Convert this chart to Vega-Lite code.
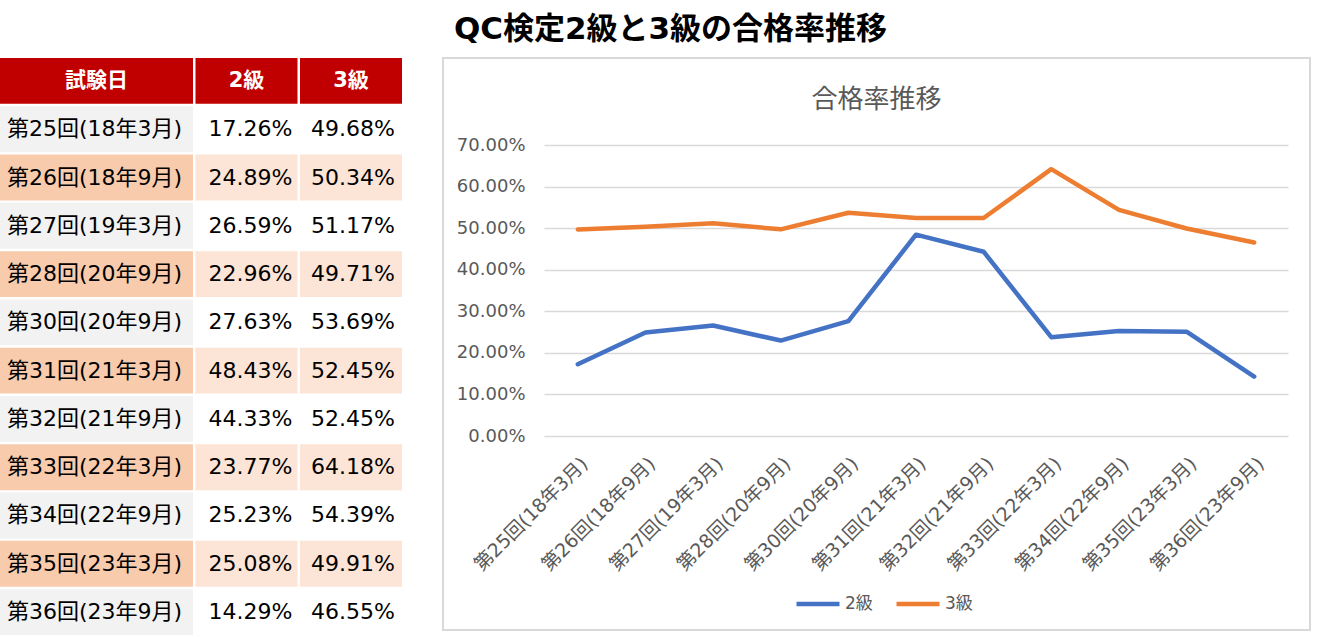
{
  "$schema": "https://vega.github.io/schema/vega-lite/v6.json",
  "background": "white",
  "padding": {"top": 14, "left": 0, "right": 0, "bottom": 0},
  "title": {"text": "QC検定2級と3級の合格率推移", "fontSize": 31, "fontWeight": "bold", "font": "DejaVu Sans, Noto Sans CJK JP", "color": "#000000", "anchor": "middle", "offset": 11, "dx": 15},
  "config": {"view": {"stroke": null}, "font": "DejaVu Sans, Noto Sans CJK JP"},
  "datasets": {
    "exams": [
      {"exam": "第25回(18年3月)", "g2": 0.1726, "g3": 0.4968},
      {"exam": "第26回(18年9月)", "g2": 0.2489, "g3": 0.5034},
      {"exam": "第27回(19年3月)", "g2": 0.2659, "g3": 0.5117},
      {"exam": "第28回(20年9月)", "g2": 0.2296, "g3": 0.4971},
      {"exam": "第30回(20年9月)", "g2": 0.2763, "g3": 0.5369},
      {"exam": "第31回(21年3月)", "g2": 0.4843, "g3": 0.5245},
      {"exam": "第32回(21年9月)", "g2": 0.4433, "g3": 0.5245},
      {"exam": "第33回(22年3月)", "g2": 0.2377, "g3": 0.6418},
      {"exam": "第34回(22年9月)", "g2": 0.2523, "g3": 0.5439},
      {"exam": "第35回(23年3月)", "g2": 0.2508, "g3": 0.4991},
      {"exam": "第36回(23年9月)", "g2": 0.1429, "g3": 0.4655}
    ],
    "header": [
      {"exam": "試験日", "c1": "試験日", "c2": "2級", "c3": "3級"}
    ]
  },
  "spacing": 40,
  "hconcat": [
    {
      "spacing": 2.5,
      "hconcat": [
        {
          "width": 193, "height": 577,
          "layer": [
            {
              "data": {"name": "exams"},
              "transform": [{"window": [{"op": "row_number", "as": "n"}]}],
              "mark": {"type": "rect"},
              "encoding": {
                "y": {"field": "exam", "type": "nominal", "axis": null, "scale": {"domain": ["試験日", "第25回(18年3月)", "第26回(18年9月)", "第27回(19年3月)", "第28回(20年9月)", "第30回(20年9月)", "第31回(21年3月)", "第32回(21年9月)", "第33回(22年3月)", "第34回(22年9月)", "第35回(23年3月)", "第36回(23年9月)"], "paddingInner": 0.05, "paddingOuter": 0}},
                "color": {"condition": {"test": "datum.n % 2 == 0", "value": "#F8CBAD"}, "value": "#F2F2F2"}
              }
            },
            {
              "data": {"name": "exams"},
              "mark": {"type": "text", "fontSize": 22, "color": "#000000", "dx": -2},
              "encoding": {
                "y": {"field": "exam", "type": "nominal", "axis": null},
                "text": {"field": "exam"}
              }
            },
            {
              "data": {"name": "header"},
              "mark": {"type": "rect", "color": "#C00000"},
              "encoding": {"y": {"field": "exam", "type": "nominal", "axis": null}}
            },
            {
              "data": {"name": "header"},
              "mark": {"type": "text", "fontSize": 21, "fontWeight": "bold", "color": "#FFFFFF"},
              "encoding": {"y": {"field": "exam", "type": "nominal", "axis": null}, "text": {"field": "c1"}}
            }
          ]
        },
        {
          "width": 102, "height": 577,
          "layer": [
            {
              "data": {"name": "exams"},
              "transform": [{"window": [{"op": "row_number", "as": "n"}]}],
              "mark": {"type": "rect"},
              "encoding": {
                "y": {"field": "exam", "type": "nominal", "axis": null, "scale": {"domain": ["試験日", "第25回(18年3月)", "第26回(18年9月)", "第27回(19年3月)", "第28回(20年9月)", "第30回(20年9月)", "第31回(21年3月)", "第32回(21年9月)", "第33回(22年3月)", "第34回(22年9月)", "第35回(23年3月)", "第36回(23年9月)"], "paddingInner": 0.05, "paddingOuter": 0}},
                "color": {"condition": {"test": "datum.n % 2 == 0", "value": "#FCE4D6"}, "value": "#FFFFFF"}
              }
            },
            {
              "data": {"name": "exams"},
              "mark": {"type": "text", "fontSize": 22, "color": "#000000", "dx": 4},
              "encoding": {
                "y": {"field": "exam", "type": "nominal", "axis": null},
                "text": {"field": "g2", "type": "quantitative", "format": ".2%"}
              }
            },
            {
              "data": {"name": "header"},
              "mark": {"type": "rect", "color": "#C00000"},
              "encoding": {"y": {"field": "exam", "type": "nominal", "axis": null}}
            },
            {
              "data": {"name": "header"},
              "mark": {"type": "text", "fontSize": 21, "fontWeight": "bold", "color": "#FFFFFF"},
              "encoding": {"y": {"field": "exam", "type": "nominal", "axis": null}, "text": {"field": "c2"}}
            }
          ]
        },
        {
          "width": 102, "height": 577,
          "layer": [
            {
              "data": {"name": "exams"},
              "transform": [{"window": [{"op": "row_number", "as": "n"}]}],
              "mark": {"type": "rect"},
              "encoding": {
                "y": {"field": "exam", "type": "nominal", "axis": null, "scale": {"domain": ["試験日", "第25回(18年3月)", "第26回(18年9月)", "第27回(19年3月)", "第28回(20年9月)", "第30回(20年9月)", "第31回(21年3月)", "第32回(21年9月)", "第33回(22年3月)", "第34回(22年9月)", "第35回(23年3月)", "第36回(23年9月)"], "paddingInner": 0.05, "paddingOuter": 0}},
                "color": {"condition": {"test": "datum.n % 2 == 0", "value": "#FCE4D6"}, "value": "#FFFFFF"}
              }
            },
            {
              "data": {"name": "exams"},
              "mark": {"type": "text", "fontSize": 22, "color": "#000000", "dx": 2},
              "encoding": {
                "y": {"field": "exam", "type": "nominal", "axis": null},
                "text": {"field": "g3", "type": "quantitative", "format": ".2%"}
              }
            },
            {
              "data": {"name": "header"},
              "mark": {"type": "rect", "color": "#C00000"},
              "encoding": {"y": {"field": "exam", "type": "nominal", "axis": null}}
            },
            {
              "data": {"name": "header"},
              "mark": {"type": "text", "fontSize": 21, "fontWeight": "bold", "color": "#FFFFFF"},
              "encoding": {"y": {"field": "exam", "type": "nominal", "axis": null}, "text": {"field": "c3"}}
            }
          ]
        }
      ]
    },
    {
      "width": 867, "height": 572,
      "view": {"stroke": "#D9D9D9", "strokeWidth": 2},
      "title": {"text": "合格率推移", "fontSize": 26, "fontWeight": "normal", "font": "Noto Sans CJK JP", "color": "#595959", "anchor": "middle", "offset": -55},
      "data": {"name": "exams"},
      "transform": [
        {"fold": ["g2", "g3"], "as": ["key", "rate"]},
        {"calculate": "datum.key == 'g2' ? '2級' : '3級'", "as": "grade"}
      ],
      "mark": {"type": "line", "strokeWidth": 4.5, "strokeCap": "round", "strokeJoin": "round"},
      "encoding": {
        "x": {
          "field": "exam", "type": "ordinal", "sort": null,
          "scale": {"range": [101, 845], "padding": 0.5},
          "axis": {"title": null, "labelAngle": -45, "labelFontSize": 19, "labelColor": "#595959", "domain": false, "ticks": false, "grid": false, "offset": -182, "labelPadding": 6}
        },
        "y": {
          "field": "rate", "type": "quantitative",
          "scale": {"domain": [0, 0.7], "range": [378, 87], "nice": false},
          "axis": {"title": null, "values": [0, 0.1, 0.2, 0.3, 0.4, 0.5, 0.6, 0.7], "format": ".2%", "labelFontSize": 18, "labelColor": "#595959", "domain": false, "ticks": false, "grid": true, "gridColor": "#D9D9D9", "gridWidth": 1.5, "offset": -90, "labelPadding": 8}
        },
        "color": {
          "field": "grade", "type": "nominal",
          "scale": {"domain": ["2級", "3級"], "range": ["#4472C4", "#ED7D31"]},
          "legend": {"title": null, "orient": "none", "legendX": 794, "legendY": 522, "direction": "horizontal", "symbolType": "stroke", "symbolSize": 1849, "symbolStrokeWidth": 4.5, "labelFontSize": 17, "labelColor": "#595959", "columnPadding": 14, "labelOffset": 3}
        }
      }
    }
  ]
}
